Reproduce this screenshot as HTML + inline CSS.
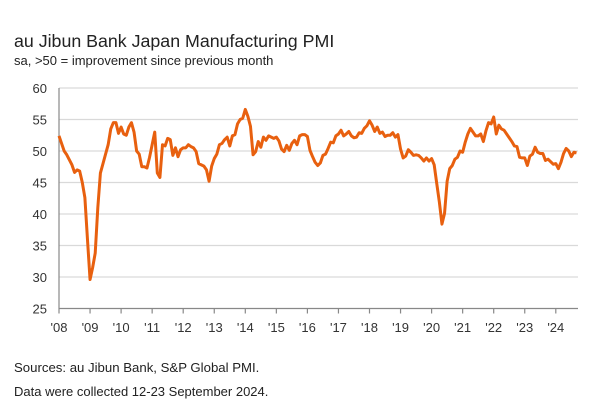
<!DOCTYPE html>
<html><head><meta charset="utf-8">
<style>
body{margin:0;background:#fff;width:600px;height:404px;overflow:hidden;font-family:"Liberation Sans",sans-serif;color:#222}
svg{position:absolute;left:0;top:0}
</style></head>
<body>
<svg width="600" height="404">
<text x="14" y="47" font-size="17.8" fill="#222">au Jibun Bank Japan Manufacturing PMI</text>
<text x="14" y="65" font-size="13" fill="#222">sa, &gt;50 = improvement since previous month</text>
<g id="grid"></g>
<g id="axes"></g>
<path id="line" fill="none" stroke="#e8600f" stroke-width="3" stroke-linejoin="round"/>
<text x="14" y="372" font-size="13.2" fill="#222">Sources: au Jibun Bank, S&amp;P Global PMI.</text>
<text x="14" y="396" font-size="13" fill="#222">Data were collected 12-23 September 2024.</text>
</svg>
<script>
const yTicks=[25,30,35,40,45,50,55,60];
const xTickLabels=["'08","'09","'10","'11","'12","'13","'14","'15","'16","'17","'18","'19","'20","'21","'22","'23","'24"];
const startYear=2008;
const pmi=[
52.4,51.2,50,49.4,48.6,47.8,46.6,47,46.8,45,42.6,36,
29.6,31.5,33.8,41,46.5,48,49.5,51,53.5,54.5,54.5,52.8,
53.8,52.7,52.5,53.8,54.5,53,50,49.5,47.5,47.5,47.3,49,
51,53,46.5,45.8,51,50.8,52,51.8,49.3,50.5,49.1,50.2,
50.5,50.5,51,50.7,50.5,49.9,48,47.8,47.6,47,45.2,47.6,
48.8,49.5,51,51.2,51.8,52.2,50.8,52.4,52.6,54.3,55,55.2,
56.6,55.5,53.9,49.4,49.9,51.5,50.6,52.2,51.7,52.4,52.2,52,
52.2,51.6,50.3,49.9,50.9,50.1,51.2,51.7,51,52.4,52.6,52.6,
52.3,50.1,49.1,48.2,47.7,48.1,49.3,49.5,50.4,51.4,51.3,52.4,
52.7,53.3,52.4,52.7,53.1,52.4,52.1,52.2,52.9,52.8,53.6,54,
54.8,54.1,53.1,53.8,52.8,53,52.3,52.5,52.5,52.9,52.2,52.6,
50.3,48.9,49.2,50.2,49.8,49.3,49.4,49.3,48.9,48.4,48.9,48.4,
48.8,47.8,44.8,41.9,38.4,40.1,45.2,47.2,47.7,48.7,49,50,
49.8,51.4,52.7,53.6,53,52.4,52.4,52.7,51.5,53.2,54.5,54.3,
55.4,52.7,54.1,53.5,53.3,52.7,52.1,51.5,50.8,50.7,49,48.9,
48.9,47.7,49.2,49.5,50.6,49.8,49.6,49.6,48.5,48.7,48.3,47.9,
48,47.2,48.2,49.6,50.4,50,49.1,49.8,49.7];
const NS="http://www.w3.org/2000/svg";
const X0=59,YEARW=31.05,Y60=88,Y25=308.5,XEND=578;
const x=m=>X0+m*YEARW/12;
const y=v=>Y25-(v-25)*(Y25-Y60)/35;
const grid=document.getElementById('grid'),axes=document.getElementById('axes');
function mk(tag,attrs,parent){const e=document.createElementNS(NS,tag);for(const k in attrs)e.setAttribute(k,attrs[k]);parent.appendChild(e);return e;}
yTicks.forEach(v=>{
  if(v>25){const l=mk('line',{x1:X0,x2:XEND,y1:y(v),y2:y(v),stroke:'#d9d9d9','stroke-width':1.2},grid);
  
  }
  const t=mk('text',{x:47,y:y(v)+5,'text-anchor':'end','font-size':13,fill:'#333'},axes);
  t.textContent=v;
  
  
});
const xa=mk('line',{x1:X0,x2:XEND,y1:Y25,y2:Y25,stroke:'#888','stroke-width':1.2},axes);


const ya=mk('line',{x1:X0,x2:X0,y1:Y60,y2:Y25,stroke:'#888','stroke-width':1.2},axes);


xTickLabels.forEach((lab,i)=>{
  const xx=x(i*12);
  const tk=mk('line',{x1:xx,x2:xx,y1:Y25,y2:Y25+5,stroke:'#888','stroke-width':1.2},axes);
  
  
  const t=mk('text',{x:xx,y:332,'text-anchor':'middle','font-size':13,fill:'#333'},axes);
  t.textContent=lab;
  
  
});
document.getElementById('line').setAttribute('d',pmi.map((v,i)=>(i?'L':'M')+x(i).toFixed(2)+','+y(v).toFixed(2)).join(''));
</script>
</body></html>
